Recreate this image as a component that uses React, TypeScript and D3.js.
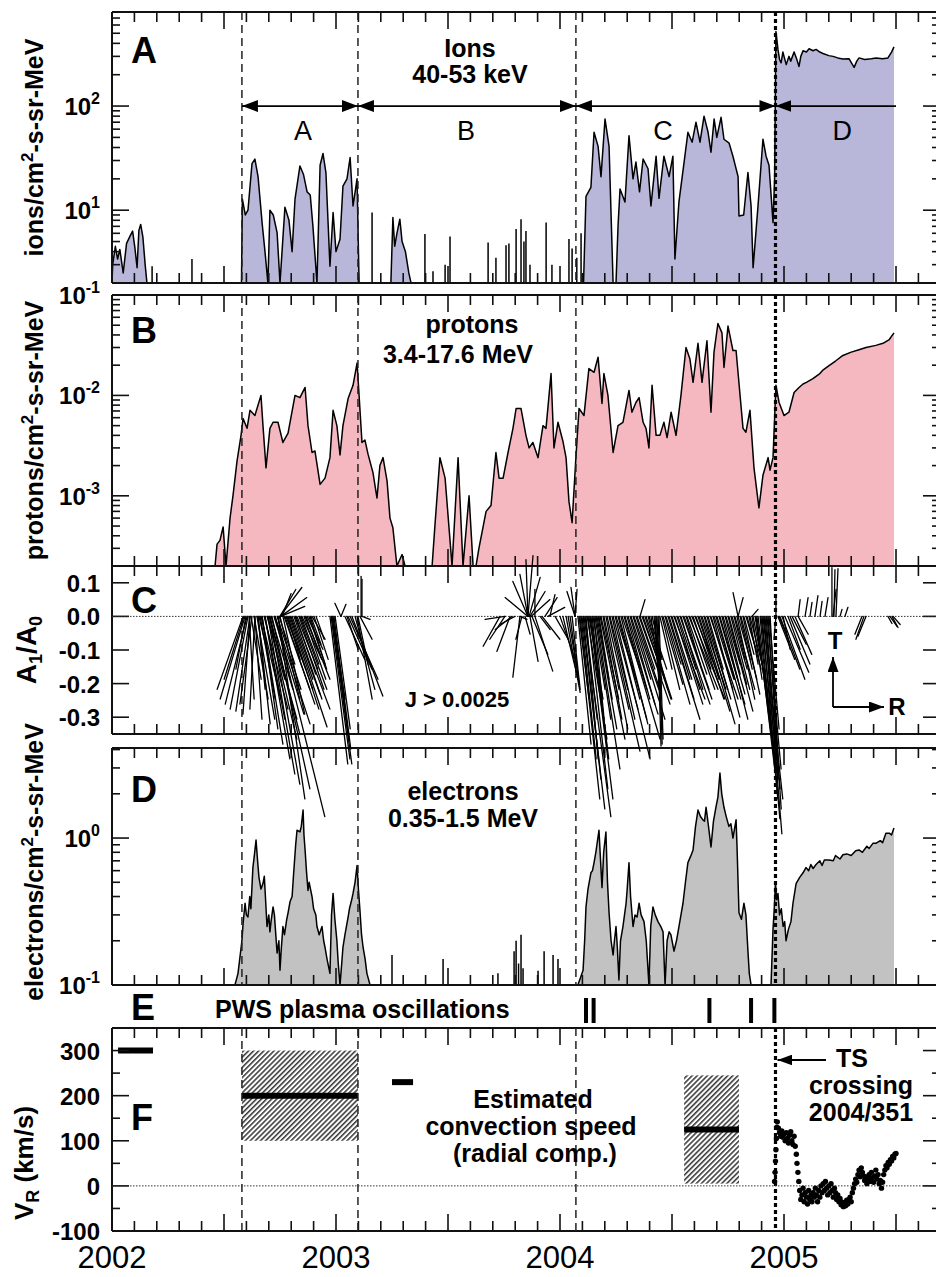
import React from "react";
import * as d3 from "d3";

// ---------------- DATA ----------------
// Ions 40-53 keV (year, flux); 0 = below plot floor
const ions: [number, number][] = [
  [2002.0, 0], [2002.003, 3.0], [2002.015, 4.5], [2002.025, 3.4], [2002.035, 4.2], [2002.05, 2.5], [2002.065, 4.8],
  [2002.08, 5.6], [2002.092, 6.3], [2002.102, 4.4], [2002.112, 2.8], [2002.12, 6.4], [2002.128, 7.3], [2002.138, 5.5],
  [2002.148, 3.0], [2002.156, 0],
  [2002.578, 0], [2002.582, 12.8], [2002.595, 9], [2002.607, 10], [2002.625, 28], [2002.638, 31], [2002.652, 21],
  [2002.670, 7.6], [2002.683, 4], [2002.696, 0], [2002.705, 10], [2002.72, 9], [2002.737, 6.1], [2002.75, 0],
  [2002.772, 10.7], [2002.79, 8], [2002.804, 4], [2002.817, 12.8], [2002.839, 26.6], [2002.855, 22], [2002.871, 15],
  [2002.885, 14], [2002.897, 7], [2002.915, 0], [2002.929, 27], [2002.942, 35], [2002.955, 23], [2002.973, 2.9],
  [2002.987, 9.5], [2003.0, 4], [2003.018, 5.3], [2003.031, 17], [2003.049, 20], [2003.063, 32], [2003.076, 11],
  [2003.094, 20], [2003.103, 0],
  [2003.245, 0], [2003.254, 8.5], [2003.262, 4.5], [2003.272, 6], [2003.285, 8.2], [2003.295, 5], [2003.31, 4],
  [2003.325, 2.5], [2003.335, 0],
  [2004.105, 0], [2004.116, 13.6], [2004.138, 16.6], [2004.152, 56], [2004.170, 41], [2004.183, 21], [2004.201, 75],
  [2004.219, 41], [2004.237, 0], [2004.250, 0], [2004.259, 7], [2004.268, 16], [2004.29, 12], [2004.308, 52],
  [2004.326, 20], [2004.339, 29], [2004.355, 15], [2004.371, 31], [2004.393, 25], [2004.406, 11], [2004.429, 33],
  [2004.442, 13], [2004.464, 33], [2004.487, 21], [2004.504, 33], [2004.513, 3.4], [2004.531, 12], [2004.554, 29],
  [2004.571, 56], [2004.59, 45], [2004.607, 70], [2004.625, 45], [2004.643, 80], [2004.661, 56], [2004.674, 36],
  [2004.688, 75], [2004.70, 50], [2004.719, 78], [2004.732, 48], [2004.755, 44], [2004.772, 33], [2004.795, 21],
  [2004.799, 8.8], [2004.82, 9], [2004.839, 23], [2004.853, 11], [2004.862, 2.8], [2004.884, 11], [2004.906, 48],
  [2004.920, 33], [2004.933, 27], [2004.951, 7.6], [2004.958, 20],
  [2004.964, 520], [2004.973, 350], [2004.98, 280], [2004.987, 260], [2004.995, 330], [2005.0, 300], [2005.01, 250],
  [2005.022, 300], [2005.03, 270], [2005.045, 330], [2005.055, 290], [2005.067, 240], [2005.075, 300], [2005.085, 340],
  [2005.1, 330], [2005.112, 355], [2005.13, 340], [2005.143, 350], [2005.16, 330], [2005.174, 320], [2005.2, 305],
  [2005.219, 300], [2005.24, 290], [2005.263, 283], [2005.29, 285], [2005.313, 235], [2005.325, 270], [2005.335, 290],
  [2005.36, 280], [2005.39, 285], [2005.411, 290], [2005.44, 285], [2005.464, 290], [2005.48, 330], [2005.491, 370],
];
const ionSpikes: [number, number][] = [
  [2002.179, 2.9], [2002.357, 3.4], [2003.161, 9.5], [2003.397, 5.9], [2003.433, 2.6], [2003.487, 3.0], [2003.509, 5.6],
  [2003.679, 4.9], [2003.714, 3.5], [2003.759, 4.6], [2003.772, 4.8], [2003.804, 6.6], [2003.826, 8.2], [2003.839, 5.0],
  [2003.848, 6.3], [2003.866, 3.0], [2003.938, 7.6], [2003.964, 3.0], [2004.040, 5.3], [2004.054, 4.3], [2004.075, 3.5],
  [2004.094, 6.0],
];

// Protons 3.4-17.6 MeV
const protons: [number, number][] = [
  [2002.460, 0], [2002.469, 3.3e-4], [2002.482, 3.6e-4], [2002.496, 4.9e-4], [2002.509, 0], [2002.527, 6e-4],
  [2002.540, 1e-3], [2002.558, 2.2e-3], [2002.576, 4e-3], [2002.585, 5.9e-3], [2002.603, 4.7e-3], [2002.616, 7.1e-3],
  [2002.638, 6.3e-3], [2002.665, 1e-2], [2002.674, 5e-3], [2002.6875, 1.9e-3], [2002.705, 4.7e-3], [2002.719, 5.4e-3],
  [2002.741, 5.4e-3], [2002.763, 3.4e-3], [2002.786, 4.2e-3], [2002.817, 1e-2], [2002.839, 9.5e-3], [2002.862, 1.2e-2],
  [2002.875, 5e-3], [2002.893, 2.7e-3], [2002.906, 2.8e-3], [2002.929, 1.3e-3], [2002.951, 1.5e-3], [2002.973, 2.4e-3],
  [2002.987, 7.1e-3], [2003.004, 5e-3], [2003.018, 2.55e-3], [2003.031, 5e-3], [2003.054, 9.3e-3], [2003.076, 1.26e-2],
  [2003.094, 2.1e-2], [2003.103, 1e-2], [2003.116, 3.4e-3], [2003.129, 3.6e-3], [2003.143, 2.6e-3], [2003.165, 1.7e-3],
  [2003.183, 9.5e-4], [2003.196, 2e-3], [2003.210, 2.4e-3], [2003.228, 1.4e-3], [2003.241, 6e-4], [2003.254, 4.8e-4],
  [2003.272, 0], [2003.295, 2.6e-4], [2003.308, 0],
  [2003.429, 0], [2003.442, 5.2e-4], [2003.464, 2.4e-3], [2003.487, 1.5e-3], [2003.518, 0], [2003.545, 2.4e-3],
  [2003.567, 0], [2003.594, 1.0e-3], [2003.612, 0], [2003.625, 0], [2003.638, 3e-4], [2003.670, 7e-4], [2003.692, 8e-4],
  [2003.714, 2.7e-3], [2003.728, 1.5e-3], [2003.746, 1.5e-3], [2003.768, 2.7e-3], [2003.790, 4.7e-3], [2003.804, 7.4e-3],
  [2003.826, 7.4e-3], [2003.848, 4e-3], [2003.862, 3e-3], [2003.879, 3.4e-3], [2003.902, 2.4e-3], [2003.924, 5e-3],
  [2003.9375, 4.7e-3], [2003.960, 1.65e-2], [2003.973, 3e-3], [2003.991, 5.4e-3], [2004.013, 3.5e-3], [2004.027, 2.4e-3],
  [2004.040, 8.8e-4], [2004.054, 5.4e-4], [2004.071, 2.4e-3], [2004.085, 7.4e-3], [2004.107, 6.3e-3], [2004.129, 1.85e-2],
  [2004.152, 1.7e-2], [2004.170, 2.4e-2], [2004.1875, 8.3e-3], [2004.196, 1.65e-2], [2004.214, 1e-2], [2004.237, 2.7e-3],
  [2004.259, 5e-3], [2004.281, 5.4e-3], [2004.308, 1.12e-2], [2004.321, 6.8e-3], [2004.339, 8.5e-3], [2004.353, 9.5e-3],
  [2004.371, 5.4e-3], [2004.384, 4.7e-3], [2004.397, 3e-3], [2004.411, 1.26e-2], [2004.429, 4e-3], [2004.446, 4e-3],
  [2004.464, 5.4e-3], [2004.478, 3.8e-3], [2004.496, 6.8e-3], [2004.518, 4e-3], [2004.540, 1e-2], [2004.5625, 3e-2],
  [2004.580, 2.3e-2], [2004.594, 1.35e-2], [2004.616, 3.3e-2], [2004.634, 1.35e-2], [2004.656, 3.5e-2], [2004.674, 6.8e-3],
  [2004.6875, 2.7e-2], [2004.705, 5.2e-2], [2004.723, 4.2e-2], [2004.732, 1.9e-2], [2004.750, 4.9e-2], [2004.772, 2.8e-2],
  [2004.786, 2.8e-2], [2004.817, 4.7e-3], [2004.830, 4.3e-3], [2004.848, 7.1e-3], [2004.866, 1.9e-3], [2004.888, 7.6e-4],
  [2004.906, 1.6e-3], [2004.929, 2.4e-3], [2004.9375, 1.8e-3], [2004.951, 2.4e-3], [2004.964, 1.26e-2], [2004.978, 8.5e-3],
  [2005.0, 6.3e-3], [2005.022, 6.8e-3], [2005.045, 1.07e-2], [2005.067, 1.2e-2], [2005.085, 1.3e-2], [2005.1, 1.35e-2],
  [2005.129, 1.47e-2], [2005.16, 1.65e-2], [2005.175, 1.8e-2], [2005.201, 1.98e-2], [2005.23, 2.2e-2],
  [2005.263, 2.5e-2], [2005.30, 2.7e-2], [2005.335, 2.85e-2], [2005.366, 3e-2], [2005.41, 3.15e-2], [2005.442, 3.3e-2],
  [2005.47, 3.6e-2], [2005.491, 4.2e-2],
];

// Electrons 0.35-1.5 MeV
const electrons: [number, number][] = [
  [2002.549, 0], [2002.5625, 0.12], [2002.580, 0.2], [2002.585, 0.26], [2002.594, 0.36], [2002.60, 0.3], [2002.607, 0.29],
  [2002.615, 0.4], [2002.62, 0.33], [2002.629, 0.63], [2002.635, 0.75], [2002.643, 0.97], [2002.65, 0.7], [2002.656, 0.54],
  [2002.665, 0.45], [2002.674, 0.49], [2002.68, 0.55], [2002.692, 0.25], [2002.7, 0.3], [2002.705, 0.23], [2002.71, 0.27],
  [2002.719, 0.34], [2002.725, 0.3], [2002.737, 0.165], [2002.745, 0.2], [2002.750, 0.126], [2002.755, 0.17],
  [2002.763, 0.25], [2002.77, 0.22], [2002.78, 0.28], [2002.786, 0.31], [2002.795, 0.37], [2002.804, 0.40], [2002.81, 0.55],
  [2002.82, 0.9], [2002.826, 1.13], [2002.839, 1.1], [2002.845, 1.2], [2002.853, 1.55], [2002.857, 1.05], [2002.862, 0.83],
  [2002.868, 0.6], [2002.875, 0.44], [2002.88, 0.5], [2002.893, 0.40], [2002.9, 0.33], [2002.91, 0.3], [2002.915, 0.25],
  [2002.925, 0.22], [2002.9375, 0.25], [2002.945, 0.2], [2002.951, 0.18], [2002.96, 0.15], [2002.973, 0.12], [2002.98, 0.3],
  [2002.987, 0.42], [2002.995, 0.28], [2003.004, 0.2], [2003.01, 0.14], [2003.018, 0.1], [2003.031, 0.18], [2003.04, 0.22],
  [2003.054, 0.29], [2003.06, 0.33], [2003.07, 0.38], [2003.076, 0.42], [2003.085, 0.5], [2003.094, 0.65], [2003.1, 0.45],
  [2003.107, 0.32], [2003.114, 0.22], [2003.121, 0.18], [2003.13, 0.15], [2003.138, 0.12], [2003.152, 0],
  [2004.080, 0], [2004.103, 0.126], [2004.11, 0.2], [2004.116, 0.34], [2004.125, 0.45], [2004.138, 0.58], [2004.145, 0.6],
  [2004.152, 0.68], [2004.16, 0.8], [2004.174, 1.13], [2004.18, 0.75], [2004.1875, 0.46], [2004.195, 0.8], [2004.205, 1.1],
  [2004.212, 0.5], [2004.219, 0.31], [2004.228, 0.2], [2004.237, 0.16], [2004.243, 0.2], [2004.25, 0.25], [2004.256, 0.18],
  [2004.263, 0.108], [2004.27, 0.2], [2004.281, 0.25], [2004.288, 0.3], [2004.295, 0.36], [2004.30, 0.45], [2004.308, 0.68],
  [2004.315, 0.4], [2004.326, 0.25], [2004.335, 0.3], [2004.344, 0.29], [2004.353, 0.36], [2004.362, 0.3], [2004.375, 0.27],
  [2004.385, 0.2], [2004.397, 0], [2004.405, 0.25], [2004.415, 0.34], [2004.425, 0.3], [2004.4375, 0.27], [2004.45, 0.25],
  [2004.460, 0.23], [2004.469, 0], [2004.478, 0.2], [2004.487, 0.23], [2004.495, 0.22], [2004.509, 0.17], [2004.52, 0.2],
  [2004.531, 0.25], [2004.54, 0.3], [2004.549, 0.36], [2004.56, 0.5], [2004.571, 0.68], [2004.583, 0.75], [2004.594, 0.83],
  [2004.605, 1.2], [2004.616, 1.55], [2004.627, 1.4], [2004.638, 1.33], [2004.645, 1.3], [2004.652, 1.62], [2004.663, 1.2],
  [2004.674, 0.87], [2004.685, 1.3], [2004.696, 1.62], [2004.705, 1.9], [2004.714, 2.77], [2004.722, 2.0], [2004.732, 1.62],
  [2004.742, 1.4], [2004.754, 1.2], [2004.763, 1.25], [2004.772, 1.0], [2004.786, 1.33], [2004.79, 0.9], [2004.799, 0.31],
  [2004.81, 0.28], [2004.821, 0.36], [2004.83, 0.3], [2004.839, 0.17], [2004.845, 0.12], [2004.853, 0],
  [2004.942, 0], [2004.951, 0.24], [2004.956, 0.32], [2004.962, 0.5], [2004.967, 0.38], [2004.973, 0.42], [2004.98, 0.3],
  [2004.988, 0.33], [2004.996, 0.25], [2005.003, 0.27], [2005.009, 0.2], [2005.02, 0.24], [2005.031, 0.27], [2005.04, 0.36],
  [2005.054, 0.49], [2005.07, 0.54], [2005.085, 0.58], [2005.098, 0.63], [2005.11, 0.60], [2005.12, 0.66], [2005.13, 0.62],
  [2005.143, 0.66], [2005.16, 0.70], [2005.17, 0.65], [2005.18, 0.71], [2005.201, 0.71], [2005.22, 0.70], [2005.23, 0.76],
  [2005.25, 0.72], [2005.263, 0.77], [2005.28, 0.78], [2005.30, 0.76], [2005.32, 0.82], [2005.335, 0.83], [2005.35, 0.80],
  [2005.37, 0.88], [2005.38, 0.85], [2005.397, 0.92], [2005.41, 0.92], [2005.43, 0.96], [2005.44, 0.93], [2005.455, 1.08],
  [2005.47, 1.08], [2005.48, 1.05], [2005.491, 1.17],
];
const electronSpikes: [number, number][] = [
  [2003.25, 0.16], [2003.478, 0.15], [2003.723, 0.12], [2003.795, 0.17], [2003.804, 0.2], [2003.815, 0.14], [2003.826, 0.22],
  [2003.835, 0.13], [2003.902, 0.125], [2003.929, 0.17], [2003.969, 0.16], [2003.991, 0.15],
];

// Anisotropy vectors A1/A0: [year, radial component, tangential component]
const sticks: [number, number, number][] = [
  // period A
  [2002.585, -0.077, -0.217], [2002.594, -0.074, -0.246], [2002.603, -0.065, -0.261], [2002.607, -0.053, -0.276],
  [2002.616, -0.042, -0.282], [2002.625, -0.036, -0.261], [2002.616, -0.021, -0.291], [2002.638, -0.015, -0.276],
  [2002.638, 0.021, -0.306], [2002.652, 0.036, -0.320], [2002.670, 0.047, -0.335], [2002.683, 0.059, -0.306],
  [2002.705, 0.089, -0.350], [2002.728, 0.104, -0.320], [2002.772, 0.089, -0.261], [2002.795, 0.110, -0.329],
  [2002.817, 0.104, -0.276], [2002.839, 0.080, -0.217], [2002.862, 0.074, -0.187], [2002.884, 0.045, -0.142],
  [2002.670, 0.062, -0.380], [2002.683, 0.074, -0.424], [2002.696, 0.080, -0.469], [2002.705, 0.089, -0.499],
  [2002.714, 0.113, -0.513], [2002.728, 0.148, -0.596], [2002.741, 0.080, -0.543], [2002.696, 0.086, -0.365],
  [2002.652, 0.021, -0.217], [2002.661, 0.045, -0.246], [2002.750, 0.059, -0.246], [2002.763, 0.065, -0.291],
  [2002.781, 0.077, -0.217], [2002.804, 0.083, -0.231], [2002.826, 0.062, -0.157], [2002.848, 0.059, -0.128],
  [2002.871, 0.047, -0.098], [2002.893, 0.039, -0.068], [2002.786, 0.036, -0.128], [2002.741, 0.036, -0.187],
  [2002.750, 0.065, 0.086], [2002.754, 0.077, 0.056], [2002.750, 0.047, 0.080], [2002.754, 0.071, 0.030], [2002.759, 0.027, 0.068],
  [2002.589, -0.059, -0.187], [2002.598, -0.030, -0.157], [2002.612, 0.015, -0.246], [2002.621, 0.030, -0.187],
  [2002.634, 0.042, -0.246], [2002.647, 0.053, -0.306], [2002.656, 0.030, -0.128], [2002.665, 0.059, -0.246],
  [2002.679, 0.071, -0.276], [2002.692, 0.053, -0.187], [2002.701, 0.083, -0.306], [2002.710, 0.065, -0.217],
  [2002.723, 0.089, -0.291], [2002.737, 0.071, -0.217], [2002.746, 0.047, -0.142], [2002.768, 0.077, -0.217],
  [2002.777, 0.059, -0.157], [2002.790, 0.089, -0.276], [2002.799, 0.065, -0.187], [2002.8125, 0.083, -0.246],
  [2002.821, 0.059, -0.172], [2002.835, 0.074, -0.217], [2002.844, 0.053, -0.142], [2002.857, 0.065, -0.187],
  [2002.866, 0.042, -0.113], [2002.879, 0.053, -0.157], [2002.888, 0.030, -0.083], [2002.902, 0.042, -0.128],
  [2002.911, 0.024, -0.068],
  [2002.973, 0.053, -0.439], [2002.978, 0.056, -0.424], [2002.982, 0.059, -0.439], [2002.987, 0.047, -0.365],
  [2002.991, 0.050, -0.395], [2002.982, 0.039, -0.246], [2002.996, 0.045, -0.335],
  [2003.022, -0.018, 0.039], [2003.022, 0.015, 0.036],
  [2003.040, 0.059, -0.128], [2003.054, 0.071, -0.157], [2003.063, 0.083, -0.187], [2003.071, 0.092, -0.237],
  [2003.085, 0.059, -0.217], [2003.094, 0.045, -0.246], [2003.098, 0.030, -0.142], [2003.049, 0.033, -0.098],
  [2003.107, 0.036, -0.068], [2003.116, 0.024, -0.009], [2003.112, 0, 0.119], [2003.116, 0, 0.110],
  // period B
  [2003.732, -0.050, -0.089], [2003.754, -0.045, -0.068], [2003.777, -0.039, -0.104], [2003.786, -0.050, -0.039],
  [2003.799, -0.045, -0.024], [2003.754, -0.059, -0.009], [2003.821, -0.021, -0.181], [2003.830, -0.018, -0.068],
  [2003.844, 0.015, -0.053], [2003.857, -0.045, 0.104], [2003.857, -0.024, 0.125], [2003.857, -0.006, 0.169],
  [2003.857, 0.015, 0.181], [2003.862, 0.033, 0.116], [2003.866, 0.045, 0.074], [2003.871, 0.056, 0.050],
  [2003.857, -0.068, 0.056], [2003.866, 0.024, -0.134], [2003.875, 0.047, -0.113], [2003.888, 0.053, -0.163],
  [2003.911, 0.030, -0.039], [2003.920, 0.053, -0.068], [2003.933, 0.036, 0.056], [2003.946, 0.050, 0.027],
  [2003.955, 0.015, 0.065], [2003.978, 0.039, -0.068], [2003.888, 0, 0.080], [2003.821, 0.021, -0.009],
  [2004.000, 0.045, -0.128], [2004.013, 0.045, -0.187], [2004.027, 0.042, -0.226], [2004.036, 0.027, -0.157],
  [2004.045, 0.027, -0.202], [2004.054, 0.024, -0.217], [2004.067, -0.024, 0.074], [2004.067, 0.006, 0.080],
  [2004.067, -0.012, 0.086],
  // period C
  [2004.080, 0.039, -0.380], [2004.089, 0.059, -0.543], [2004.098, 0.068, -0.573], [2004.107, 0.080, -0.596],
  [2004.116, 0.036, -0.424], [2004.125, 0.059, -0.513], [2004.134, 0.068, -0.543], [2004.143, 0.045, -0.395],
  [2004.152, 0.030, -0.306], [2004.161, 0.071, -0.454], [2004.170, 0.042, -0.246], [2004.179, 0.074, -0.365],
  [2004.192, 0.056, -0.306], [2004.205, 0.065, -0.335], [2004.219, 0.092, -0.401], [2004.232, 0.068, -0.306],
  [2004.246, 0.104, -0.424], [2004.259, 0.065, -0.246], [2004.272, 0.080, -0.320], [2004.286, 0.107, -0.365],
  [2004.299, 0.068, -0.246], [2004.313, 0.074, -0.261], [2004.326, 0.095, -0.306], [2004.339, 0.071, -0.217],
  [2004.353, 0.092, -0.261], [2004.366, 0.068, -0.187], [2004.379, 0.080, -0.246], [2004.393, 0.059, -0.217],
  [2004.406, 0.027, -0.187], [2004.420, 0.018, -0.246], [2004.433, 0.012, -0.386], [2004.438, 0.012, -0.380],
  [2004.442, 0.012, -0.365], [2004.424, 0.021, -0.335], [2004.455, 0.053, -0.217], [2004.469, 0.074, -0.261],
  [2004.482, 0.095, -0.306], [2004.496, 0.056, -0.187], [2004.509, 0.092, -0.246], [2004.522, 0.068, -0.217],
  [2004.536, 0.089, -0.261], [2004.549, 0.086, -0.246], [2004.563, 0.042, -0.142], [2004.576, 0.086, -0.217],
  [2004.589, 0.098, -0.246], [2004.603, 0.074, -0.187], [2004.616, 0.042, -0.128], [2004.629, 0.086, -0.282],
  [2004.643, 0.092, -0.320], [2004.656, 0.062, -0.217], [2004.670, 0.083, -0.246], [2004.683, 0.080, -0.300],
  [2004.696, 0.056, -0.187], [2004.710, 0.077, -0.261], [2004.723, 0.077, -0.306], [2004.737, 0.045, -0.172],
  [2004.750, 0.074, -0.282], [2004.763, 0.056, -0.217], [2004.777, 0.033, -0.128], [2004.790, 0.053, -0.246],
  [2004.804, 0.036, -0.157], [2004.817, 0.050, -0.231], [2004.830, 0.030, -0.098], [2004.844, 0.027, -0.142],
  [2004.857, 0.030, -0.187], [2004.871, 0.045, -0.306], [2004.879, 0.053, -0.454], [2004.893, 0.053, -0.543],
  [2004.902, 0.053, -0.602], [2004.911, 0.053, -0.647], [2004.920, 0.036, -0.484], [2004.929, 0.039, -0.573],
  [2004.938, 0.024, -0.424],
  [2004.357, 0.015, 0.050], [2004.795, -0.015, 0.071], [2004.795, 0.015, 0.056], [2004.857, 0.018, 0.021],
  [2004.085, 0.030, -0.246], [2004.094, 0.045, -0.424], [2004.103, 0.053, -0.484], [2004.112, 0.036, -0.306],
  [2004.121, 0.059, -0.365], [2004.129, 0.042, -0.246], [2004.138, 0.053, -0.424], [2004.147, 0.036, -0.217],
  [2004.156, 0.047, -0.306], [2004.165, 0.059, -0.335], [2004.174, 0.030, -0.187], [2004.183, 0.053, -0.246],
  [2004.196, 0.045, -0.217], [2004.210, 0.065, -0.276], [2004.223, 0.053, -0.217], [2004.237, 0.074, -0.276],
  [2004.250, 0.059, -0.187], [2004.263, 0.083, -0.306], [2004.277, 0.053, -0.157], [2004.290, 0.065, -0.217],
  [2004.304, 0.089, -0.291], [2004.317, 0.059, -0.187], [2004.330, 0.074, -0.217], [2004.344, 0.053, -0.157],
  [2004.357, 0.065, -0.187], [2004.371, 0.083, -0.246], [2004.384, 0.045, -0.128], [2004.397, 0.053, -0.157],
  [2004.411, 0.030, -0.128], [2004.429, 0.015, -0.246], [2004.446, 0.036, -0.157], [2004.460, 0.059, -0.202],
  [2004.473, 0.045, -0.142], [2004.487, 0.074, -0.246], [2004.500, 0.059, -0.187], [2004.513, 0.083, -0.261],
  [2004.527, 0.053, -0.157], [2004.540, 0.065, -0.217], [2004.554, 0.074, -0.217], [2004.567, 0.059, -0.172],
  [2004.580, 0.074, -0.217], [2004.594, 0.053, -0.157], [2004.607, 0.083, -0.246], [2004.621, 0.059, -0.187],
  [2004.634, 0.071, -0.217], [2004.647, 0.077, -0.246], [2004.661, 0.045, -0.157], [2004.674, 0.065, -0.217],
  [2004.688, 0.059, -0.187], [2004.701, 0.071, -0.246], [2004.714, 0.053, -0.187], [2004.728, 0.065, -0.231],
  [2004.741, 0.042, -0.142], [2004.754, 0.053, -0.202], [2004.768, 0.045, -0.157], [2004.781, 0.059, -0.217],
  [2004.795, 0.036, -0.128], [2004.808, 0.047, -0.187], [2004.821, 0.030, -0.113], [2004.835, 0.042, -0.157],
  [2004.848, 0.036, -0.142], [2004.862, 0.042, -0.217], [2004.875, 0.047, -0.365], [2004.884, 0.059, -0.484],
  [2004.897, 0.047, -0.424], [2004.906, 0.059, -0.543], [2004.915, 0.045, -0.513], [2004.924, 0.042, -0.454],
  [2004.933, 0.030, -0.335],
  // period D
  [2004.964, 0, 0.065], [2004.964, -0.006, -0.068],
  [2004.973, 0.050, -0.128], [2004.982, 0.059, -0.157], [2004.991, 0.068, -0.187], [2005.004, 0.071, -0.166],
  [2005.018, 0.036, -0.098], [2005.027, 0.059, -0.142], [2005.036, 0.042, -0.083], [2005.049, 0.050, -0.113],
  [2005.063, 0.030, -0.053], [2004.978, 0.027, -0.068], [2004.996, 0.021, -0.098],
  [2005.063, 0.006, 0.050], [2005.094, 0.009, 0.056], [2005.116, 0.006, 0.042], [2005.138, 0.009, 0.062],
  [2005.161, 0.006, 0.045], [2005.183, 0.009, 0.056], [2005.214, 0, 0.145], [2005.223, 0.003, 0.139],
  [2005.232, 0.006, 0.142], [2005.219, 0.009, 0.080], [2005.25, 0.006, 0.021], [2005.272, 0.009, 0.027],
  [2005.348, -0.021, -0.053], [2005.357, -0.024, -0.068], [2005.366, -0.024, -0.059],
  [2005.482, 0.018, -0.033], [2005.473, 0.021, -0.030], [2005.464, 0.012, -0.021], [2005.487, 0.021, -0.024],
];

// PWS plasma oscillation events
const pwsEvents: number[] = [2004.116, 2004.150, 2004.667, 2004.853, 2004.957];

// Estimated convection speed (km/s)
const speedBars: [number, number, number][] = [[2002.027, 2002.183, 300], [2003.25, 2003.344, 230]];
const speedBoxes: [number, number, number, number, number][] = [
  [2002.58, 2003.098, 100, 300, 200],
  [2004.554, 2004.799, 5, 245, 125],
];
const tsSpeed: [number, number][] = [
  [2004.958, 10], [2004.960, 30], [2004.962, 55], [2004.964, 80], [2004.966, 105], [2004.968, 130], [2004.970, 142],
  [2004.975, 128], [2004.98, 118], [2004.985, 110], [2004.99, 122], [2004.995, 108], [2005.0, 115], [2005.005, 100],
  [2005.01, 118], [2005.015, 105], [2005.02, 95], [2005.025, 112], [2005.03, 120], [2005.035, 100], [2005.04, 92],
  [2005.045, 110], [2005.05, 88], [2005.055, 70], [2005.058, 50], [2005.062, 30], [2005.066, 10],
  [2005.07, -10], [2005.075, -30], [2005.08, -20], [2005.085, -5], [2005.09, -35], [2005.095, -15], [2005.10, -25],
  [2005.105, -40], [2005.11, -10], [2005.115, -30], [2005.12, -20], [2005.125, -35], [2005.13, -15], [2005.135, -25],
  [2005.14, -5], [2005.145, -20], [2005.15, -35], [2005.155, -10], [2005.16, -25], [2005.165, 0], [2005.17, -15],
  [2005.175, 5], [2005.18, -10], [2005.185, 10], [2005.19, -5], [2005.195, -20], [2005.20, 0], [2005.205, -15],
  [2005.21, 5], [2005.215, -10], [2005.22, -25], [2005.225, -5], [2005.23, -15], [2005.235, -30], [2005.24, -20],
  [2005.245, -35], [2005.25, -28], [2005.255, -42], [2005.26, -36], [2005.265, -46], [2005.27, -38], [2005.275, -44],
  [2005.28, -32], [2005.285, -40], [2005.29, -30], [2005.295, -25], [2005.30, -35],
  [2005.305, -15], [2005.31, -5], [2005.315, 5], [2005.32, 15], [2005.325, 8], [2005.33, 25], [2005.335, 35],
  [2005.34, 20], [2005.345, 40], [2005.35, 30], [2005.355, 22], [2005.36, 12], [2005.365, 20], [2005.37, 5],
  [2005.375, 15], [2005.38, 25], [2005.385, 10], [2005.39, 30], [2005.395, 18], [2005.40, 8], [2005.405, 22],
  [2005.41, 35], [2005.415, 15], [2005.42, 25], [2005.425, 5], [2005.43, 12], [2005.435, -5], [2005.44, 8],
  [2005.445, 25], [2005.45, 35], [2005.455, 45], [2005.46, 40], [2005.465, 52], [2005.47, 48], [2005.475, 58],
  [2005.48, 55], [2005.485, 65], [2005.49, 62], [2005.495, 70], [2005.5, 72],
];

const boundaries: number[] = [2002.58, 2003.098, 2004.071];
const tsCrossing = 2004.962;
const periodNames: string[] = ["A", "B", "C", "D"];
const periodLabelYears: number[] = [2002.853, 2003.58, 2004.46, 2005.26];
const periodStarts: number[] = [2002.58, 2003.098, 2004.071, 2004.962];
const periodEnds: number[] = [2003.098, 2004.071, 2004.962, 2005.5];
const yearLabels: number[] = [2002, 2003, 2004, 2005];
const cTicks: number[] = [0.1, 0.0, -0.1, -0.2, -0.3];
const fTicks: number[] = [-100, -50, 0, 50, 100, 150, 200, 250, 300];

// ---------------- LAYOUT ----------------
const W = 936, H = 1277;
const LEFT = 112, RIGHT = 940;
const FONT = "'Liberation Sans', Arial, Helvetica, sans-serif";

const x = d3.scaleLinear().domain([2002, 2005.6964]).range([LEFT, RIGHT]);
const pA = { top: 12, bottom: 283 };
const pB = { top: 295, bottom: 566 };
const pC = { top: 566, bottom: 734 };
const pD = { top: 748, bottom: 985 };
const pF = { top: 1028, bottom: 1231 };
const yA = d3.scaleLog().domain([2, 800]).range([pA.bottom, pA.top]);
const yB = d3.scaleLog().domain([2e-4, 0.1]).range([pB.bottom, pB.top]);
const yC = d3.scaleLinear().domain([-0.35, 0.15]).range([pC.bottom, pC.top]);
const yD = d3.scaleLog().domain([0.1, 4.1]).range([pD.bottom, pD.top]);
const yF = d3.scaleLinear().domain([-100, 350]).range([pF.bottom, pF.top]);

const xTickYears = d3.range(0, 38).map((i) => 2002 + i * 0.1);

function logTickValues(lo: number, hi: number) {
  const out: { v: number; major: boolean }[] = [];
  for (let e = Math.floor(Math.log10(lo)) - 1; e <= Math.ceil(Math.log10(hi)); e++) {
    for (let m = 1; m <= 9; m++) {
      const v = m * Math.pow(10, e);
      if (v >= lo * 0.999 && v <= hi * 1.001) out.push({ v, major: m === 1 });
    }
  }
  return out;
}

function Frame({ top, bottom, yTicks }: { top: number; bottom: number; yTicks: { y: number; major: boolean }[] }) {
  const els: React.ReactNode[] = [];
  xTickYears.forEach((t, i) => {
    const major = Math.abs(t * 2 - Math.round(t * 2)) < 1e-6;
    const len = major ? 17 : 10;
    const xx = x(t);
    els.push(<line key={"t" + i} x1={xx} x2={xx} y1={top} y2={top + len} />);
    els.push(<line key={"b" + i} x1={xx} x2={xx} y1={bottom} y2={bottom - len} />);
  });
  yTicks.forEach((tk, i) => {
    const len = tk.major ? 17 : 8;
    els.push(<line key={"l" + i} x1={LEFT} x2={LEFT + len} y1={tk.y} y2={tk.y} />);
    els.push(<line key={"r" + i} x1={RIGHT} x2={RIGHT - len} y1={tk.y} y2={tk.y} />);
  });
  return (
    <g stroke="#111" strokeWidth={1.6} fill="none">
      <line x1={LEFT} x2={RIGHT} y1={top} y2={top} strokeWidth={2} />
      <line x1={LEFT} x2={RIGHT} y1={bottom} y2={bottom} strokeWidth={2} />
      <line x1={LEFT} x2={LEFT} y1={top} y2={bottom} strokeWidth={2} />
      {els}
    </g>
  );
}

function VLines({ top, bottom }: { top: number; bottom: number }) {
  return (
    <g fill="none">
      {boundaries.map((b, i) => (
        <line key={i} x1={x(b)} x2={x(b)} y1={top} y2={bottom} stroke="#222" strokeWidth={1.5} strokeDasharray="8,5" />
      ))}
      <line x1={x(tsCrossing)} x2={x(tsCrossing)} y1={top} y2={bottom} stroke="#000" strokeWidth={3.2} strokeDasharray="4,3" />
    </g>
  );
}

function LogLabel({ yy, exp }: { yy: number; exp: string }) {
  return (
    <text x={100} y={yy + 9} textAnchor="end" fontSize={24} fontWeight="bold">
      10<tspan dy={-11} fontSize={16}>{exp}</tspan>
    </text>
  );
}

function SeriesPanel({ data, y, bottom, fill, clipId }: any) {
  const lo = y.domain()[0];
  const sorted = (data as [number, number][]).slice().sort((a, b) => a[0] - b[0]);
  const area = d3
    .area<[number, number]>()
    .x((d) => x(d[0]))
    .y0(bottom)
    .y1((d) => y(Math.max(d[1], lo)));
  const line = d3
    .line<[number, number]>()
    .x((d) => x(d[0]))
    .y((d) => y(Math.max(d[1], lo)));
  return (
    <g clipPath={`url(#${clipId})`}>
      <path d={area(sorted) || ""} fill={fill} stroke="none" />
      <path d={line(sorted) || ""} fill="none" stroke="#000" strokeWidth={1.5} strokeLinejoin="round" />
    </g>
  );
}

export default function App() {
  const ticksA = logTickValues(2, 800).map((t) => ({ y: yA(t.v), major: t.major }));
  const ticksB = logTickValues(2e-4, 0.1).map((t) => ({ y: yB(t.v), major: t.major }));
  const ticksD = logTickValues(0.1, 4.1).map((t) => ({ y: yD(t.v), major: t.major }));
  const ticksC = cTicks.map((v) => ({ y: yC(v), major: true }));
  const ticksF = fTicks.map((v) => ({ y: yF(v), major: v % 100 === 0 }));
  const c0 = yC(0);

  return (
    <svg
      width={W}
      height={H}
      viewBox={`0 0 ${W} ${H}`}
      style={{ position: "absolute", left: 0, top: 0, background: "#fff" }}
      fontFamily={FONT}
    >
      <defs>
        <clipPath id="clipA"><rect x={LEFT} y={pA.top} width={RIGHT - LEFT} height={pA.bottom - pA.top} /></clipPath>
        <clipPath id="clipB"><rect x={LEFT} y={pB.top} width={RIGHT - LEFT} height={pB.bottom - pB.top} /></clipPath>
        <clipPath id="clipD"><rect x={LEFT} y={pD.top} width={RIGHT - LEFT} height={pD.bottom - pD.top} /></clipPath>
        <pattern id="hatch" patternUnits="userSpaceOnUse" width={3.6} height={3.6} patternTransform="rotate(45)">
          <line x1={0.8} y1={0} x2={0.8} y2={3.6} stroke="#222" strokeWidth={1.4} />
        </pattern>
        <marker id="ah" viewBox="0 0 16 12" refX={16} refY={6} markerWidth={16} markerHeight={12} markerUnits="userSpaceOnUse" orient="auto-start-reverse">
          <path d="M0,0 L16,6 L0,12 z" fill="#000" />
        </marker>
        <marker id="ah2" viewBox="0 0 15 11" refX={15} refY={5.5} markerWidth={15} markerHeight={11} markerUnits="userSpaceOnUse" orient="auto-start-reverse">
          <path d="M0,0 L15,5.5 L0,11 z" fill="#000" />
        </marker>
      </defs>
      <rect x={0} y={0} width={W} height={H} fill="#fff" />

      {/* Panel A */}
      <SeriesPanel data={ions} y={yA} bottom={pA.bottom} fill="#b8b7da" clipId="clipA" />
      <g stroke="#000" strokeWidth={1.5}>
        {ionSpikes.map(([t, v], i) => (
          <line key={i} x1={x(t)} x2={x(t)} y1={pA.bottom} y2={yA(v)} />
        ))}
      </g>
      <Frame top={pA.top} bottom={pA.bottom} yTicks={ticksA} />
      <VLines top={pA.top} bottom={pA.bottom} />
      {periodStarts.map((s, i) => (
        <line
          key={i}
          x1={x(s)}
          x2={x(periodEnds[i])}
          y1={yA(100)}
          y2={yA(100)}
          stroke="#000"
          strokeWidth={1.8}
          markerStart="url(#ah)"
          markerEnd={i < 3 ? "url(#ah)" : undefined}
        />
      ))}
      {periodNames.map((n, i) => (
        <text key={n} x={x(periodLabelYears[i])} y={140} textAnchor="middle" fontSize={27}>{n}</text>
      ))}
      <text x={470} y={57} textAnchor="middle" fontSize={25} fontWeight="bold">Ions</text>
      <text x={470} y={83} textAnchor="middle" fontSize={25} fontWeight="bold">40-53 keV</text>
      <text x={131} y={63} fontSize={36} fontWeight="bold">A</text>
      <LogLabel yy={yA(100)} exp="2" />
      <LogLabel yy={yA(10)} exp="1" />
      <text transform={`translate(43,${(pA.top + pA.bottom) / 2}) rotate(-90)`} textAnchor="middle" fontSize={25} fontWeight="bold">
        ions/cm<tspan dy={-10} fontSize={17}>2</tspan><tspan dy={10}>-s-sr-MeV</tspan>
      </text>

      {/* Panel B */}
      <SeriesPanel data={protons} y={yB} bottom={pB.bottom} fill="#f5b8c1" clipId="clipB" />
      <Frame top={pB.top} bottom={pB.bottom} yTicks={ticksB} />
      <VLines top={pB.top} bottom={pB.bottom} />
      <text x={472} y={333} textAnchor="middle" fontSize={25} fontWeight="bold">protons</text>
      <text x={458} y={363} textAnchor="middle" fontSize={25} fontWeight="bold">3.4-17.6 MeV</text>
      <text x={131} y={343} fontSize={36} fontWeight="bold">B</text>
      <LogLabel yy={yB(0.1)} exp="-1" />
      <LogLabel yy={yB(0.01)} exp="-2" />
      <LogLabel yy={yB(0.001)} exp="-3" />
      <text transform={`translate(43,${(pB.top + pB.bottom) / 2}) rotate(-90)`} textAnchor="middle" fontSize={25} fontWeight="bold">
        protons/cm<tspan dy={-10} fontSize={17}>2</tspan><tspan dy={10}>-s-sr-MeV</tspan>
      </text>

      {/* Panel D (drawn before sticks) */}
      <SeriesPanel data={electrons} y={yD} bottom={pD.bottom} fill="#c2c2c2" clipId="clipD" />
      <g stroke="#000" strokeWidth={1.5}>
        {electronSpikes.map(([t, v], i) => (
          <line key={i} x1={x(t)} x2={x(t)} y1={pD.bottom} y2={yD(v)} />
        ))}
      </g>
      <Frame top={pD.top} bottom={pD.bottom} yTicks={ticksD} />
      <VLines top={pD.top} bottom={pD.bottom} />
      <text x={463} y={800} textAnchor="middle" fontSize={25} fontWeight="bold">electrons</text>
      <text x={463} y={827} textAnchor="middle" fontSize={25} fontWeight="bold">0.35-1.5 MeV</text>
      <text x={131} y={802} fontSize={36} fontWeight="bold">D</text>
      <LogLabel yy={yD(1)} exp="0" />
      <LogLabel yy={yD(0.1)} exp="-1" />
      <text transform={`translate(43,862) rotate(-90)`} textAnchor="middle" fontSize={25} fontWeight="bold">
        electrons/cm<tspan dy={-10} fontSize={17}>2</tspan><tspan dy={10}>-s-sr-MeV</tspan>
      </text>

      {/* Panel C */}
      <Frame top={pC.top} bottom={pC.bottom} yTicks={ticksC} />
      <VLines top={pC.top} bottom={pC.bottom} />
      <line x1={LEFT} x2={RIGHT} y1={c0} y2={c0} stroke="#333" strokeWidth={1} strokeDasharray="1.5,1.5" />
      <g stroke="#000" strokeWidth={1.3} strokeLinecap="round">
        {sticks.map(([t, r, a], i) => {
          const x1 = x(t);
          const x2 = x1 + (c0 - yC(r));
          return <line key={i} x1={x1} y1={c0} x2={x2} y2={yC(a)} />;
        })}
      </g>
      <text x={131} y={613} fontSize={36} fontWeight="bold">C</text>
      {cTicks.map((v) => (
        <text key={v} x={100} y={yC(v) + 9} textAnchor="end" fontSize={24} fontWeight="bold">{v.toFixed(1)}</text>
      ))}
      <text transform={`translate(36,${(pC.top + pC.bottom) / 2}) rotate(-90)`} textAnchor="middle" fontSize={28} fontWeight="bold">
        A<tspan dy={6} fontSize={18}>1</tspan><tspan dy={-6}>/A</tspan><tspan dy={6} fontSize={18}>0</tspan>
      </text>
      <text x={457} y={707} textAnchor="middle" fontSize={22} fontWeight="bold">J &gt; 0.0025</text>
      <line x1={833} y1={707} x2={833} y2={657} stroke="#000" strokeWidth={1.8} markerEnd="url(#ah2)" />
      <line x1={833} y1={707} x2={884} y2={707} stroke="#000" strokeWidth={1.8} markerEnd="url(#ah2)" />
      <text x={835} y={649} textAnchor="middle" fontSize={24} fontWeight="bold">T</text>
      <text x={897} y={715} textAnchor="middle" fontSize={24} fontWeight="bold">R</text>

      {/* Panel E */}
      <text x={131} y={1020} fontSize={36} fontWeight="bold">E</text>
      <text x={215} y={1018} fontSize={25} fontWeight="bold">PWS plasma oscillations</text>
      <g stroke="#000" strokeWidth={4}>
        {pwsEvents.map((t, i) => (
          <line key={i} x1={x(t)} x2={x(t)} y1={998} y2={1023} />
        ))}
      </g>

      {/* Panel F */}
      {speedBoxes.map(([t0, t1, lo, hi, mid], i) => (
        <g key={i}>
          <rect x={x(t0)} y={yF(hi)} width={x(t1) - x(t0)} height={yF(lo) - yF(hi)} fill="url(#hatch)" />
          <line x1={x(t0)} x2={x(t1)} y1={yF(mid)} y2={yF(mid)} stroke="#000" strokeWidth={6} />
        </g>
      ))}
      {speedBars.map(([t0, t1, v], i) => (
        <line key={i} x1={x(t0)} x2={x(t1)} y1={yF(v)} y2={yF(v)} stroke="#000" strokeWidth={6} />
      ))}
      <Frame top={pF.top} bottom={pF.bottom} yTicks={ticksF} />
      <VLines top={pF.top} bottom={pF.bottom} />
      <line x1={LEFT} x2={RIGHT} y1={yF(0)} y2={yF(0)} stroke="#333" strokeWidth={1} strokeDasharray="1.5,1.5" />
      <g fill="#000">
        {tsSpeed.map(([t, v], i) => (
          <circle key={i} cx={x(t)} cy={yF(v)} r={2.7} />
        ))}
      </g>
      <text x={131} y={1130} fontSize={36} fontWeight="bold">F</text>
      {fTicks.filter((v) => v % 100 === 0).map((v) => (
        <text key={v} x={100} y={yF(v) + 9} textAnchor="end" fontSize={24} fontWeight="bold">{v}</text>
      ))}
      <text transform={`translate(33,1163) rotate(-90)`} textAnchor="middle" fontSize={26} fontWeight="bold">
        V<tspan dy={6} fontSize={18}>R</tspan><tspan dy={-6}> (km/s)</tspan>
      </text>
      <text x={533} y={1108} textAnchor="middle" fontSize={25} fontWeight="bold">Estimated</text>
      <text x={531} y={1135} textAnchor="middle" fontSize={25} fontWeight="bold">convection speed</text>
      <text x={535} y={1162} textAnchor="middle" fontSize={25} fontWeight="bold">(radial comp.)</text>
      <line x1={826} y1={1060} x2={x(tsCrossing) + 2} y2={1060} stroke="#000" strokeWidth={1.8} markerEnd="url(#ah2)" />
      <text x={852} y={1067} textAnchor="middle" fontSize={25} fontWeight="bold">TS</text>
      <text x={861} y={1094} textAnchor="middle" fontSize={25} fontWeight="bold">crossing</text>
      <text x={861} y={1121} textAnchor="middle" fontSize={25} fontWeight="bold">2004/351</text>

      {/* X axis labels */}
      {yearLabels.map((yr) => (
        <text key={yr} x={x(yr)} y={1268} textAnchor="middle" fontSize={31}>{yr}</text>
      ))}
    </svg>
  );
}
